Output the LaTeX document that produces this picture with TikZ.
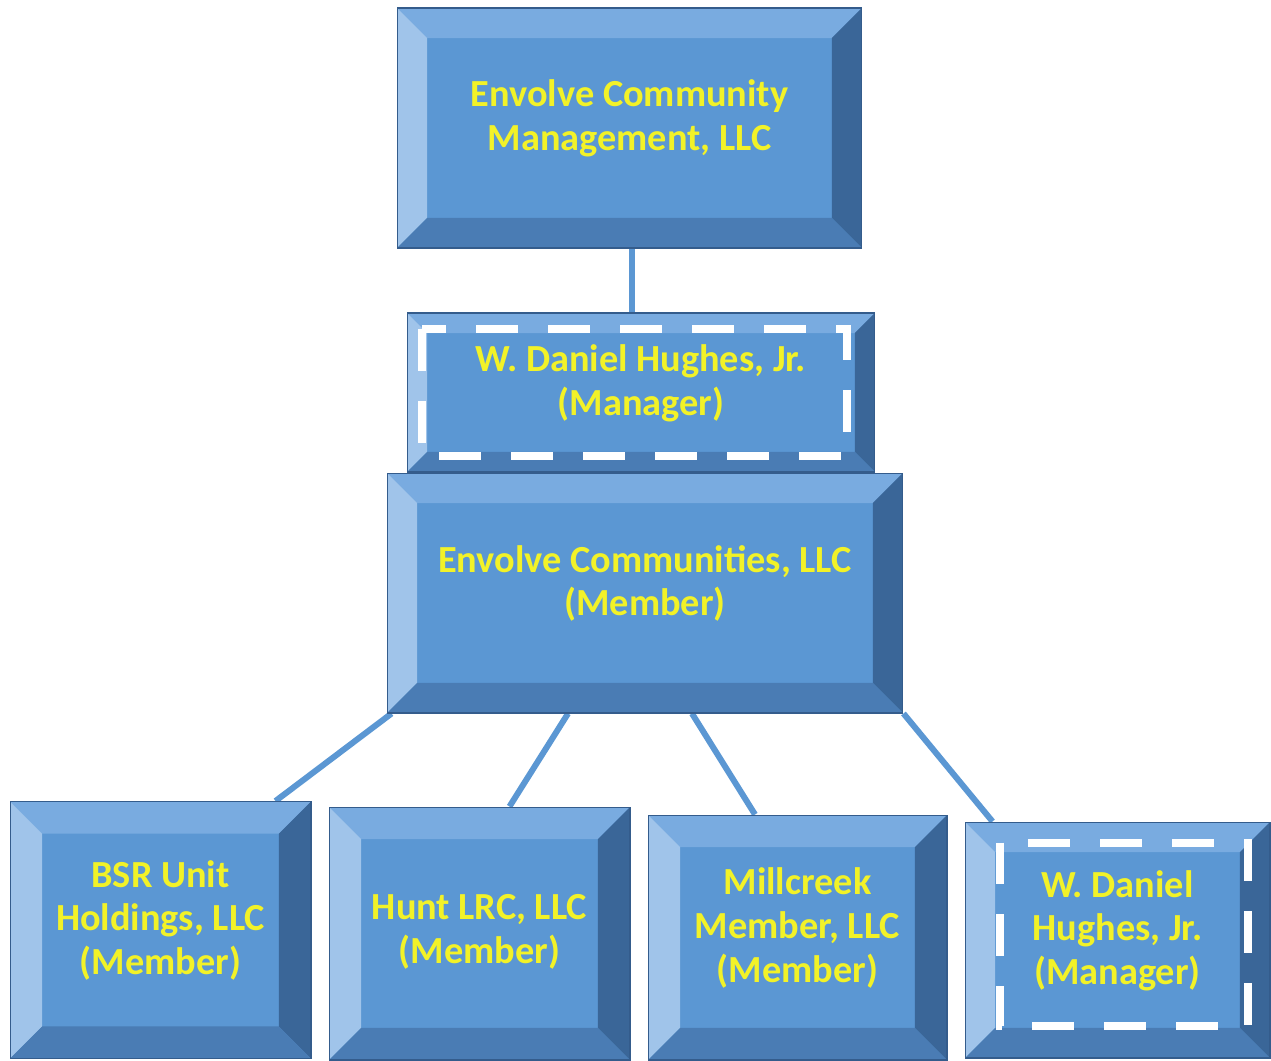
\documentclass[tikz,border=0pt]{standalone}
\usepackage{fontspec}
\setmainfont{Carlito}
\usetikzlibrary{calc,backgrounds}
\definecolor{faceblue}{RGB}{91,151,211}
\definecolor{bevtopc}{RGB}{121,171,224}
\definecolor{bevleftc}{RGB}{160,196,234}
\definecolor{bevrightc}{RGB}{58,102,152}
\definecolor{bevbotc}{RGB}{74,124,180}
\definecolor{edgeblue}{RGB}{52,92,140}
\definecolor{labelyellow}{RGB}{242,242,40}
\tikzset{
  bevel/.store in=\bevw, bevel=0.6cm,
  orgbox/.style={rectangle,draw=edgeblue,line width=0.6pt,fill=faceblue,
    text=labelyellow,align=center,inner sep=0pt,text depth=0.5cm,
    font=\bfseries\fontsize{21.8}{25}\selectfont,
    path picture={
      \coordinate (pnw) at (path picture bounding box.north west);
      \coordinate (pne) at (path picture bounding box.north east);
      \coordinate (psw) at (path picture bounding box.south west);
      \coordinate (pse) at (path picture bounding box.south east);
      \fill[bevtopc] (pnw) -- (pne) -- ($(pne)+(-\bevw,-\bevw)$) -- ($(pnw)+(\bevw,-\bevw)$) -- cycle;
      \fill[bevleftc] (pnw) -- (psw) -- ($(psw)+(\bevw,\bevw)$) -- ($(pnw)+(\bevw,-\bevw)$) -- cycle;
      \fill[bevrightc] (pne) -- (pse) -- ($(pse)+(-\bevw,\bevw)$) -- ($(pne)+(-\bevw,-\bevw)$) -- cycle;
      \fill[bevbotc] (psw) -- (pse) -- ($(pse)+(-\bevw,\bevw)$) -- ($(psw)+(\bevw,\bevw)$) -- cycle;
    }},
  link/.style={draw=faceblue,line width=0.12cm},
  dashframe/.style={draw=white,line width=0.16cm,dash pattern=on 0.84cm off 0.6cm}
}
\begin{document}
\begin{tikzpicture}[x=0.02cm,y=-0.02cm]
  \useasboundingbox (0,0) rectangle (1271,1061);

  % top level
  \node[orgbox,minimum width=9.3cm,minimum height=4.8cm] (ecm) at (629.5,128)
    {Envolve Community\\Management, LLC};
  \node[orgbox,bevel=0.4cm,minimum width=9.36cm,minimum height=3.18cm] (mgr) at (641,392.5)
    {W. Daniel Hughes, Jr.\\(Manager)};
  \draw[dashframe] ([shift={(0.3cm,-0.34cm)}]mgr.north west) rectangle ([shift={(-0.56cm,0.34cm)}]mgr.south east);
  \node[orgbox,minimum width=10.32cm,minimum height=4.8cm] (ec) at (645,593)
    {Envolve Communities, LLC\\(Member)};

  % members
  \node[orgbox,bevel=0.64cm,minimum width=6.02cm,minimum height=5.14cm] (bsr) at (160.5,930)
    {BSR Unit\\Holdings, LLC\\(Member)};
  \node[orgbox,bevel=0.64cm,text depth=0.2cm,minimum width=6.02cm,minimum height=5.06cm] (hunt) at (479.5,933.5)
    {Hunt LRC, LLC\\(Member)};
  \node[orgbox,bevel=0.64cm,minimum width=5.98cm,minimum height=4.9cm] (mill) at (797.5,937.5)
    {Millcreek\\Member, LLC\\(Member)};
  \node[orgbox,bevel=0.6cm,minimum width=6.1cm,minimum height=4.72cm] (wdh) at (1117.5,940)
    {W. Daniel\\Hughes, Jr.\\(Manager)};
  \draw[dashframe] ([shift={(0.7cm,-0.42cm)}]wdh.north west) rectangle ([shift={(-0.46cm,0.66cm)}]wdh.south east);

  \begin{scope}[on background layer]
    \draw[link] ([xshift=0.05cm]ecm.south) -- ([xshift=0.05cm]ecm.south |- mgr.north);
    \draw[link] ([xshift=0.1cm]ec.south west) -- ([xshift=-0.72cm]bsr.north east);
    \draw[link] ([xshift=-1.54cm]ec.south) -- ([xshift=0.6cm]hunt.north);
    \draw[link] ([xshift=0.94cm]ec.south) -- ([xshift=-0.85cm]mill.north);
    \draw[link] (ec.south east) -- ([xshift=0.56cm]wdh.north west);
  \end{scope}
\end{tikzpicture}
\end{document}
